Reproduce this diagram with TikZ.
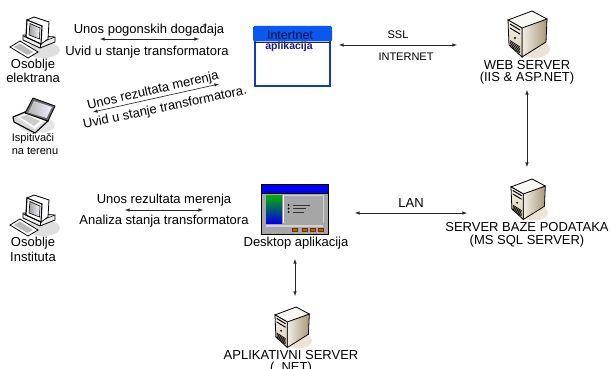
\documentclass[tikz,border=0pt]{standalone}
\usepackage{fontspec}
\setmainfont{Liberation Sans}
\usepackage{tikz}

\definecolor{winblue}{HTML}{0A58F0}
\definecolor{winedge}{HTML}{1238C8}
\definecolor{navytext}{HTML}{1C1C70}
\definecolor{headtext}{HTML}{10103A}
\definecolor{beige}{HTML}{D8CDB4}
\definecolor{beigedark}{HTML}{A89878}

\tikzset{
  pcdesk/.pic={
    \fill[gray!25] (33,33) ellipse (17 and 8);
    \draw[fill=gray!15, line width=0.8pt] (13,18) -- (45,20) -- (45,25) -- (30,31) -- (13,23) -- cycle;
    \draw[line width=0.5pt] (13,19) -- (30,26) -- (45,20);
    \draw (30,26) -- (30,31);
    \draw[fill=white, line width=0.8pt] (17,3) -- (24,0) -- (39,5) -- (38,22) -- (31,27) -- (16,20) -- cycle;
    \draw[fill=white, line width=1.1pt] (17,3) -- (32,9) -- (31,27) -- (16,20) -- cycle;
    \shade[left color=gray!75, right color=blue!5, draw=black, line width=0.6pt] (20,6.5) -- (30,11) -- (29.5,22) -- (19,18) -- cycle;
    \draw[fill=white, line width=0.8pt] (0,30) -- (10,24) -- (28,35) -- (18,41) -- cycle;
    \fill[gray!55] (4,30) -- (10,26.5) -- (23,35) -- (17.5,38) -- cycle;
  },
  pclaptop/.pic={
    \fill[gray!20] (24,24) ellipse (18 and 8);
    \draw[fill=gray!30, line width=1.1pt] (0,16) -- (12,11) -- (35,20) -- (22,32) -- (1,21) -- cycle;
    \fill[white] (4,16) -- (13,13) -- (31,20) -- (22,28) -- cycle;
    \fill[gray!40] (7,16) -- (14,14) -- (27,20) -- (21,25) -- cycle;
    \draw[fill=gray!80!black, line width=0.8pt] (12,12) -- (20,-3) -- (42,5) -- (35,20) -- cycle;
    \shade[left color=gray!60, right color=blue!6] (15,11.5) -- (21,0) -- (39,6) -- (33.5,17) -- cycle;
  },
  serverbox/.pic={
    \fill[beige!55] (27,38) ellipse (15 and 9);
    \shade[left color=beige!35, right color=beigedark, draw=black, line width=0.8pt] (14,16) -- (39,8) -- (38,31) -- (14,46) -- cycle;
    \draw[fill=white!85!beige, line width=0.8pt] (0,9) -- (24,0) -- (39,8) -- (14,17) -- cycle;
    \shade[top color=beige!25, bottom color=beige, draw=black, line width=0.8pt] (0,9) -- (14,17) -- (14,46) -- (1,34) -- cycle;
    \draw[line width=1pt] (2,13) -- (12,19);
    \draw[line width=1pt] (2,17) -- (12,23);
    \fill (7,27) circle (1.2);
    \foreach \k in {0,1.5,3,4.5,6}
      \draw[line width=0.7pt] (2,29.5+\k) -- (12,36+\k);
  },
  link/.style={<->, >=latex, line width=0.6pt, black!85},
  lbl/.style={font=\fontsize{13}{15}\selectfont, inner sep=0pt},
  smalllbl/.style={font=\fontsize{11}{13}\selectfont, inner sep=0pt},
}

\begin{document}
\begin{tikzpicture}[x=1pt, y=-1pt]
  \useasboundingbox (0,0) rectangle (611,369);
  % users
  \pic at (10,17) {pcdesk};
  \node[lbl] (osoblje) at (33,65) {Osoblje};
  \node[lbl] (elektrana) at (33,78) {elektrana};
  \pic at (13,101) {pclaptop};
  \node[smalllbl] (ispitivaci) at (33,139) {Ispitivači};
  \node[smalllbl] (nateren) at (35,151) {na terenu};
  \pic at (10,195) {pcdesk};
  \node[lbl] (osoblje2) at (33,243) {Osoblje};
  \node[lbl] (instituta) at (33,257) {Instituta};
  % servers
  \pic at (508,11) {serverbox};
  \node[lbl] (web) at (527,65) {WEB SERVER};
  \node[lbl] (iis) at (527,78) {(IIS \& ASP.NET)};
  \pic[scale=0.88] at (511,179) {serverbox};
  \node[lbl] (baza) at (527,227) {SERVER BAZE PODATAKA};
  \node[lbl] (mssql) at (527,241) {(MS SQL SERVER)};
  \pic[scale=0.88] at (275,307) {serverbox};
  \node[lbl] (aplserver) at (291,355) {APLIKATIVNI SERVER};
  \node[lbl] (dotnet) at (291,368) {( .NET)};
  % internet window
  \node[draw=winedge, fill=white, line width=2pt, minimum width=75pt, minimum height=59pt, inner sep=0pt] (webapp) at (292.5,56.5) {};
  \fill[winblue, rounded corners=1.5pt] (253,26) rectangle (332,41.5);
  \draw[navytext, line width=0.8pt] (254,42) -- (331,42);
  \node[inner sep=0pt, text=headtext, font=\fontsize{12.5}{15}\selectfont] (intertnet) at (290,35) {Intertnet};
  \node[inner sep=0pt, text=navytext, font=\fontsize{10.5}{13}\bfseries\selectfont] (aplikacija) at (289,47) {aplikacija};
  % desktop window
  \node[draw=black, fill=gray!70, line width=1pt, minimum width=67pt, minimum height=50pt, inner sep=0pt] (desktop) at (295,209.5) {};
  \fill[blue!95!black] (262,185) rectangle (328,192.5);
  \draw[black, line width=0.8pt] (261.5,193) -- (328.5,193);
  \shade[top color=green!70!black, bottom color=blue!90!black] (266,195) rectangle (282,223);
  \draw[white, line width=1pt] (283,195) -- (283,223);
  \draw[gray!35, line width=1pt] (284,195.5) -- (323,195.5) -- (323,223);
  \draw[gray!35, line width=1.5pt] (266,226) -- (323,226);
  \foreach \k in {205,208.5,212}
    \fill[black] (288.5,\k) circle (1);
  \draw[black!80, line width=0.9pt] (293,205) -- (310,205);
  \draw[black!80, line width=0.9pt] (293,208.5) -- (306,208.5);
  \draw[black!80, line width=0.9pt] (293,212) -- (304,212);
  \foreach \k in {292,302,310,318}
    \draw[red!80!black, fill=green!75!black, line width=0.5pt] (\k,228) rectangle ++(5,3);
  \node[lbl] (desktoplbl) at (296,243) {Desktop aplikacija};
  % arrows
  \coordinate (p1) at (100,39);
  \coordinate (p2) at (199,39);
  \draw[link] (p1) -- (p2);
  \node[lbl] (unos1) at (149,30) {Unos pogonskih događaja};
  \node[lbl] (uvid1) at (147,52) {Uvid u stanje transformatora};
  \coordinate (q1) at (93,112);
  \coordinate (q2) at (219,84);
  \draw[link] (q1) -- (q2);
  \node[lbl, rotate=13] (unos2) at (153,91) {Unos rezultata merenja};
  \node[lbl, rotate=12] (uvid2) at (165,108) {Uvid u stanje transformatora.};
  \coordinate (r1) at (125,210);
  \coordinate (r2) at (203,210);
  \draw[link] (r1) -- (r2);
  \node[lbl] (unos3) at (164,200) {Unos rezultata merenja};
  \node[lbl] (analiza) at (164,221) {Analiza stanja transformatora};
  \coordinate (s1) at (339,45);
  \coordinate (s2) at (457,45);
  \draw[link] (s1) -- (s2);
  \node[smalllbl] (ssl) at (398,35) {SSL};
  \node[smalllbl] (internet) at (406,57) {INTERNET};
  \coordinate (t1) at (527,90);
  \coordinate (t2) at (527,167);
  \draw[link] (t1) -- (t2);
  \coordinate (u1) at (355,213);
  \coordinate (u2) at (467,213);
  \draw[link] (u1) -- (u2);
  \node[lbl] (lan) at (411,203) {LAN};
  \coordinate (v1) at (295,259);
  \coordinate (v2) at (295,296);
  \draw[link] (v1) -- (v2);
\end{tikzpicture}
\end{document}
